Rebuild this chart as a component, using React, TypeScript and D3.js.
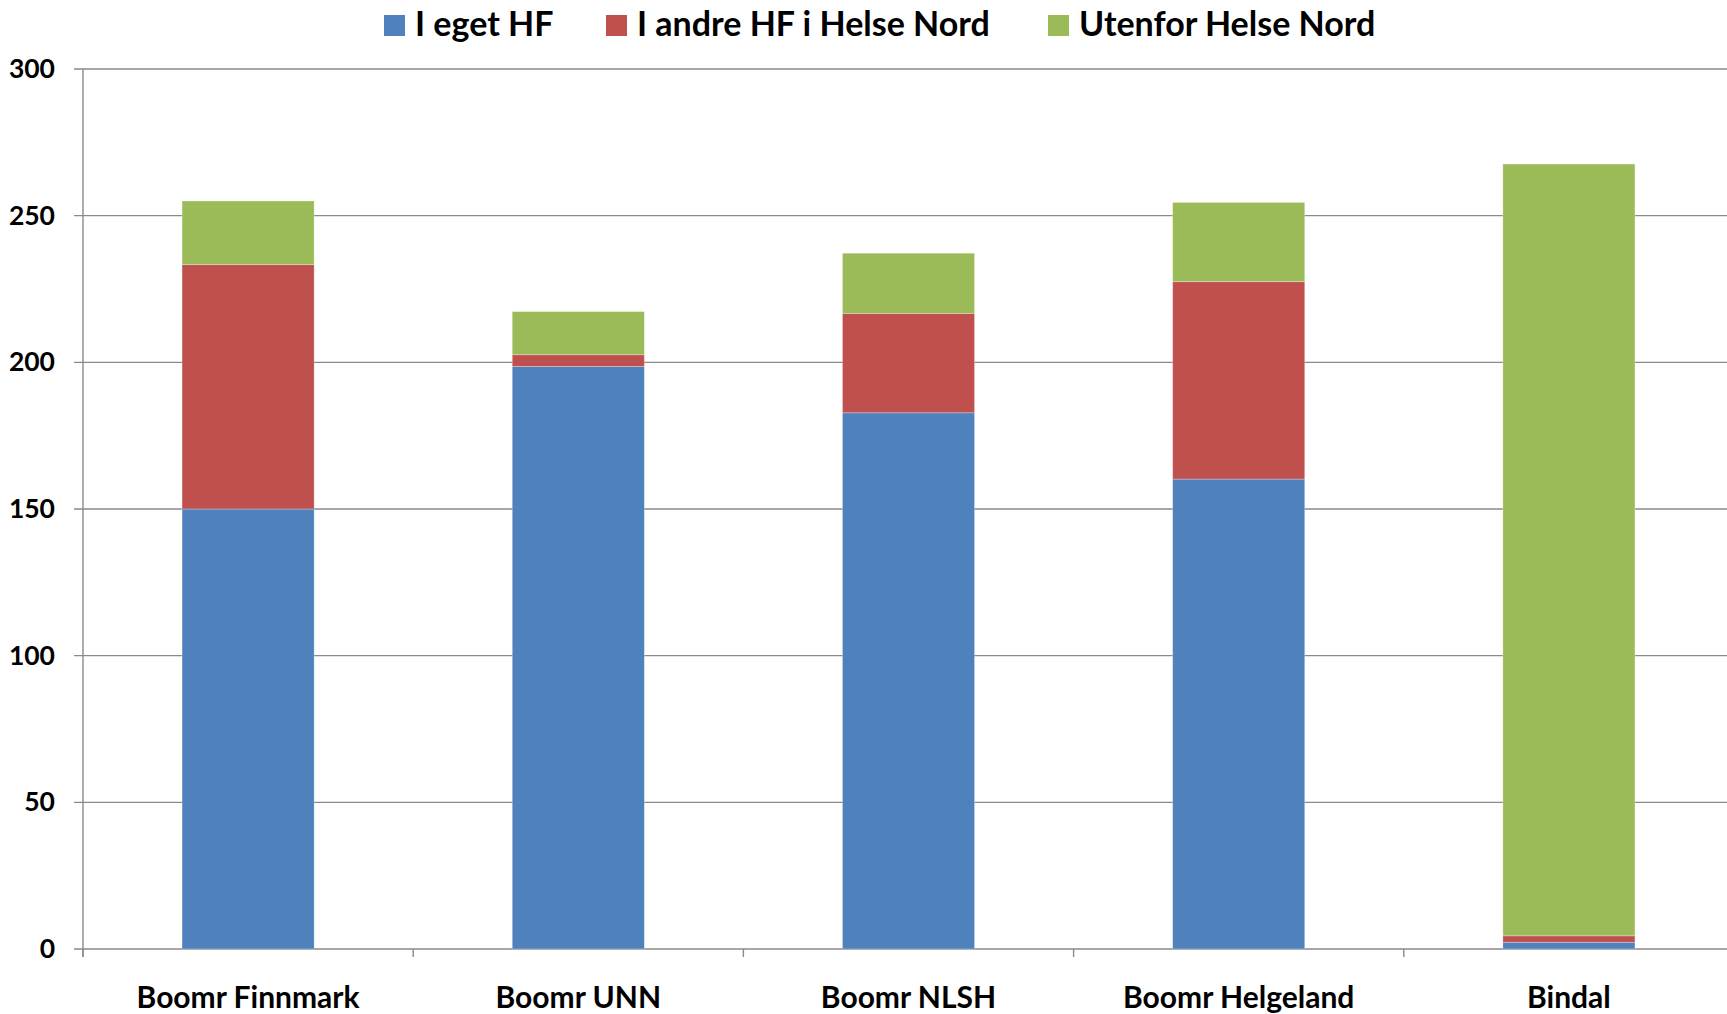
import React from "react";
import * as d3 from "d3";

const categories = ["Boomr Finnmark", "Boomr UNN", "Boomr NLSH", "Boomr Helgeland", "Bindal"];
const seriesNames = ["I eget HF", "I andre HF i Helse Nord", "Utenfor Helse Nord"];
const egetHF = [150, 198.6, 182.8, 160.2, 2.3];
const andreHF = [83.3, 4, 33.9, 67.3, 2.2];
const utenfor = [21.7, 14.7, 20.5, 27, 263.1];
const colors = ["#4F81BD", "#C0504D", "#9BBB59"];
const yTicks = [0, 50, 100, 150, 200, 250, 300];

const W = 1727;
const H = 1014;
const FONT = "Lato, 'Open Sans', sans-serif";

export default function App() {
  const rows = categories.map((c, i) => ({
    cat: c,
    s0: egetHF[i],
    s1: andreHF[i],
    s2: utenfor[i],
  }));
  const stack = d3.stack<any>().keys(["s0", "s1", "s2"]);
  const series = stack(rows);

  const x = d3.scaleBand().domain(categories).range([83, 1734]).padding(0);
  const y = d3.scaleLinear().domain([0, 300]).range([949, 69]);
  const barW = x.bandwidth() * 0.4;
  const boundaries = categories.map((c) => x(c)!).concat([x.range()[1]]);

  const legendX = [384, 606, 1048];

  return (
    <div style={{ position: "absolute", left: 0, top: 0 }}>
      <svg width={W} height={H} style={{ display: "block", overflow: "hidden" }}>
        <rect x={0} y={0} width={W} height={H} fill="#fff" />
        {/* gridlines */}
        {yTicks.map((t) => (
          <line
            key={"g" + t}
            x1={74}
            x2={W}
            y1={y(t)}
            y2={y(t)}
            stroke="#8a8a8a"
            strokeWidth={1.4}
          />
        ))}
        {/* y axis */}
        <line x1={83} x2={83} y1={y(300)} y2={y(0) + 8} stroke="#8a8a8a" strokeWidth={1.4} />
        {/* x ticks */}
        {boundaries.map((b, i) => (
          <line key={"xt" + i} x1={b} x2={b} y1={y(0)} y2={y(0) + 8} stroke="#8a8a8a" strokeWidth={1.4} />
        ))}
        {/* bars */}
        {series.map((s, si) => (
          <g key={si} fill={colors[si]}>
            {s.map((d, i) => (
              <rect
                key={i}
                x={x(categories[i])! + x.bandwidth() / 2 - barW / 2}
                width={barW}
                y={y(d[1])}
                height={y(d[0]) - y(d[1])}
                stroke="rgba(255,255,255,0.35)"
                strokeWidth={0.8}
              />
            ))}
          </g>
        ))}
        {/* y labels */}
        {yTicks.map((t) => (
          <text
            key={"yl" + t}
            x={55}
            y={y(t) + 9}
            textAnchor="end"
            fontFamily={FONT}
            fontWeight={700}
            fontSize={26.5}
            fill="#000"
          >
            {t}
          </text>
        ))}
        {/* x labels */}
        {categories.map((c) => (
          <text
            key={"xl" + c}
            x={x(c)! + x.bandwidth() / 2}
            y={1008}
            textAnchor="middle"
            fontFamily={FONT}
            fontWeight={700}
            fontSize={30}
            fill="#000"
          >
            {c}
          </text>
        ))}
        {/* legend */}
        {seriesNames.map((n, i) => (
          <g key={"lg" + i}>
            <rect x={legendX[i]} y={15} width={21} height={21} fill={colors[i]} />
            <text
              x={legendX[i] + 31}
              y={35.5}
              fontFamily={FONT}
              fontWeight={700}
              fontSize={34}
              fill="#000"
            >
              {n}
            </text>
          </g>
        ))}
      </svg>
    </div>
  );
}
